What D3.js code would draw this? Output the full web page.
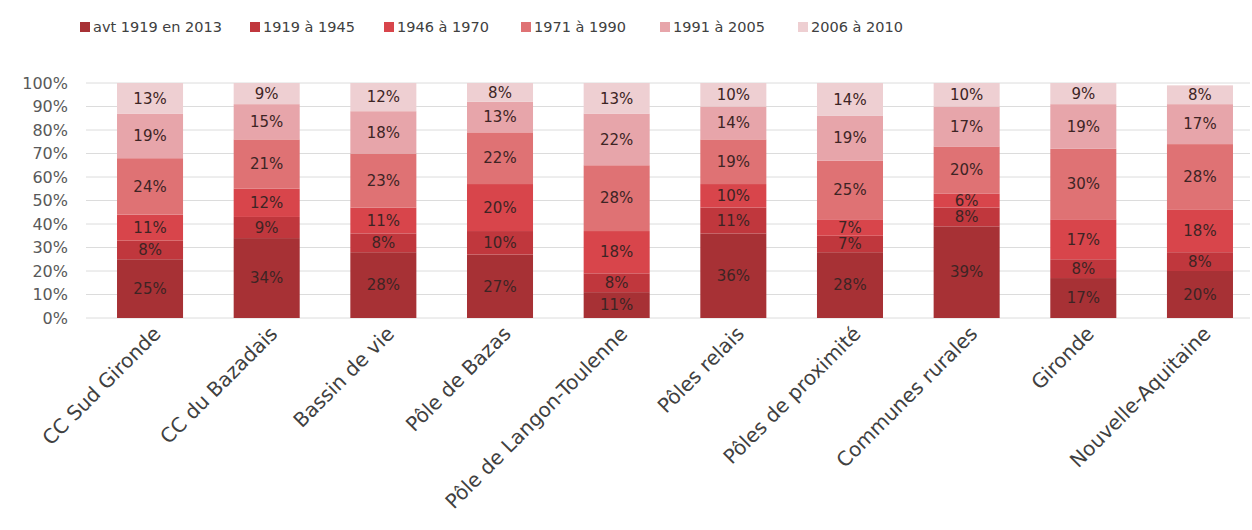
<!DOCTYPE html>
<html>
<head>
<meta charset="utf-8">
<script src="https://cdn.jsdelivr.net/npm/d3@7"></script>
<style>
  body { margin: 0; background: #fff; }
  text { font-family: "DejaVu Sans", sans-serif; }
</style>
</head>
<body>
<div id="chart"></div>
<script>
// categories (x axis)
const zones = ["CC Sud Gironde", "CC du Bazadais", "Bassin de vie", "Pôle de Bazas",
  "Pôle de Langon-Toulenne", "Pôles relais", "Pôles de proximité", "Communes rurales",
  "Gironde", "Nouvelle-Aquitaine"];

// series (bottom to top)
const periods = ["avt 1919 en 2013", "1919 à 1945", "1946 à 1970", "1971 à 1990", "1991 à 2005", "2006 à 2010"];

// percentages per period, one value per zone
const avt1919  = [25, 34, 28, 27, 11, 36, 28, 39, 17, 20];
const p1919_45 = [ 8,  9,  8, 10,  8, 11,  7,  8,  8,  8];
const p1946_70 = [11, 12, 11, 20, 18, 10,  7,  6, 17, 18];
const p1971_90 = [24, 21, 23, 22, 28, 19, 25, 20, 30, 28];
const p1991_05 = [19, 15, 18, 13, 22, 14, 19, 17, 19, 17];
const p2006_10 = [13,  9, 12,  8, 13, 10, 14, 10,  9,  8];

const yTicks = [0, 10, 20, 30, 40, 50, 60, 70, 80, 90, 100];

const colors = ["#a73135", "#c0373d", "#d8454b", "#df7274", "#e7a5aa", "#eecfd2"];

const seriesVals = [avt1919, p1919_45, p1946_70, p1971_90, p1991_05, p2006_10];
const rows = zones.map((z, i) => {
  const r = { zone: z };
  periods.forEach((p, k) => r[p] = seriesVals[k][i]);
  return r;
});

const W = 1252, H = 530;
const svg = d3.select("#chart").append("svg").attr("width", W).attr("height", H);

const x = d3.scaleBand().domain(zones).range([91.7, 1258.3])
  .paddingInner(0.434).paddingOuter(0.217);
const y = d3.scaleLinear().domain([0, 100]).range([318, 83]);
const color = d3.scaleOrdinal().domain(periods).range(colors);

// gridlines
svg.append("g").selectAll("line").data(yTicks).join("line")
  .attr("x1", 86).attr("x2", 1250)
  .attr("y1", d => y(d)).attr("y2", d => y(d))
  .attr("stroke", "#dcdcdc").attr("stroke-width", 1);

// y axis labels
svg.append("g").selectAll("text").data(yTicks).join("text")
  .attr("x", 68).attr("y", d => y(d)).attr("dy", "0.35em")
  .attr("text-anchor", "end").attr("font-size", 16).attr("fill", "#595959")
  .text(d => d + "%");

// stacked bars
const stacked = d3.stack().keys(periods)(rows);
const layer = svg.append("g").selectAll("g").data(stacked).join("g")
  .attr("fill", d => color(d.key));

layer.selectAll("rect").data(d => d).join("rect")
  .attr("x", d => x(d.data.zone))
  .attr("width", x.bandwidth())
  .attr("y", d => y(d[1]))
  .attr("height", d => y(d[0]) - y(d[1]));

layer.selectAll("text").data(d => d).join("text")
  .attr("x", d => x(d.data.zone) + x.bandwidth() / 2)
  .attr("y", d => (y(d[0]) + y(d[1])) / 2)
  .attr("dy", "0.35em")
  .attr("text-anchor", "middle").attr("font-size", 15).attr("fill", "#3d2424")
  .text(d => (d[1] - d[0]) + "%");

// x labels, rotated
svg.append("g").selectAll("text").data(zones).join("text")
  .attr("transform", d => `translate(${x(d) + x.bandwidth() / 2 + 12},${335}) rotate(-45)`)
  .attr("text-anchor", "end").attr("font-size", 20).attr("fill", "#404040")
  .text(d => d);

// legend
const legendX = [80, 250, 384, 521, 660, 798];
const lg = svg.append("g").selectAll("g").data(periods).join("g")
  .attr("transform", (d, i) => `translate(${legendX[i]},27)`);
lg.append("rect").attr("x", 0).attr("y", -5).attr("width", 10).attr("height", 10)
  .attr("fill", d => color(d));
lg.append("text").attr("x", 13).attr("dy", "0.35em")
  .attr("font-size", 14.5).attr("fill", "#404040").text(d => d);
</script>
</body>
</html>
